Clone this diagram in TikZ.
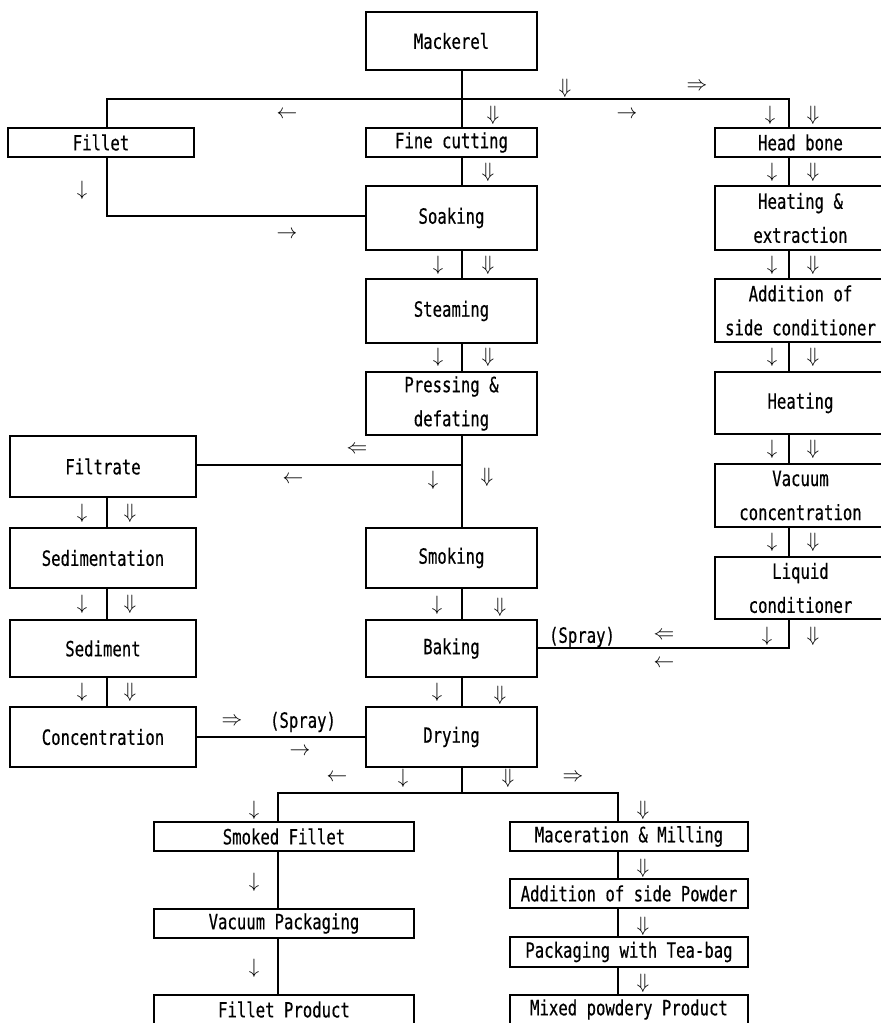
\documentclass[tikz,border=0pt]{standalone}
\usepackage{fontspec}
\newfontfamily\boxfont[FakeStretch=0.745,FakeBold=0.4]{DejaVu Sans Mono}
\begin{document}
\begin{tikzpicture}[x=1pt,y=-1pt,
  box/.style={draw, line width=1.2pt, inner sep=0pt, align=center,
    font=\boxfont\fontsize{21}{34}\selectfont},
  lab/.style={inner sep=0pt, font=\fontsize{20}{24}\selectfont},
  ln/.style={line width=1.2pt}]
\useasboundingbox (0,0) rectangle (881,1023);
\clip (0,0) rectangle (881,1023);
% boxes
\node[box, minimum width=171, minimum height=58] (mack) at (451.5,41) {Mackerel};
\node[box, minimum width=186, minimum height=29] (fillet) at (101,142.5) {Fillet};
\node[box, minimum width=171, minimum height=29] (fine) at (451.5,142.5) {Fine cutting};
\node[box, minimum width=171, minimum height=64] (soak) at (451.5,218) {Soaking};
\node[box, minimum width=171, minimum height=29] (head) at (800.5,142.5) {Head bone};
\node[box, minimum width=171, minimum height=64] (heatext) at (800.5,218) {Heating \&\\extraction};
\node[box, minimum width=171, minimum height=64] (steam) at (451.5,311) {Steaming};
\node[box, minimum width=171, minimum height=63] (press) at (451.5,403.5) {Pressing \&\\defating};
\node[box, minimum width=171, minimum height=63] (addcond) at (800.5,310.5) {Addition of\\side conditioner};
\node[box, minimum width=171, minimum height=62] (heat) at (800.5,403) {Heating};
\node[box, minimum width=186, minimum height=61] (filtrate) at (103,466.5) {Filtrate};
\node[box, minimum width=171, minimum height=63] (vac) at (800.5,495.5) {Vacuum\\concentration};
\node[box, minimum width=171, minimum height=62] (liquid) at (800.5,588) {Liquid\\conditioner};
\node[box, minimum width=186, minimum height=60] (sedim) at (103,558) {Sedimentation};
\node[box, minimum width=171, minimum height=60] (smoking) at (451.5,558) {Smoking};
\node[box, minimum width=186, minimum height=57] (sediment) at (103,648.5) {Sediment};
\node[box, minimum width=171, minimum height=57] (baking) at (451.5,648.5) {Baking};
\node[box, minimum width=186, minimum height=60] (conc) at (103,737) {Concentration};
\node[box, minimum width=171, minimum height=60] (drying) at (451.5,737) {Drying};
\node[box, minimum width=260, minimum height=29] (smf) at (284,836.5) {Smoked Fillet};
\node[box, minimum width=260, minimum height=29] (vpk) at (284,923.5) {Vacuum Packaging};
\node[box, minimum width=260, minimum height=29] (fpr) at (284,1009.5) {Fillet Product};
\node[box, minimum width=238, minimum height=29] (mac) at (629,836.5) {Maceration \& Milling};
\node[box, minimum width=238, minimum height=29] (apw) at (629,893.5) {Addition of side Powder};
\node[box, minimum width=238, minimum height=30] (ptb) at (629,952) {Packaging with Tea-bag};
\node[box, minimum width=238, minimum height=29] (mix) at (629,1009.5) {Mixed powdery Product};
% reference coordinates
\coordinate (cx) at (462,0);
\coordinate (lx) at (107,0);
\coordinate (rx) at (789,0);
\coordinate (bl) at (278,0);
\coordinate (br) at (618,0);
\coordinate (ty) at (0,99);
\coordinate (fy) at (0,216);
\coordinate (fl) at (0,465);
\coordinate (ly) at (0,648);
\coordinate (by) at (0,793);
% connectors
\draw[ln] (mack.south -| cx) -- (fine.north -| cx);
\draw[ln] (fillet.north -| lx) -- (lx |- ty) -- (rx |- ty) -- (head.north -| rx);
\draw[ln] (fillet.south -| lx) -- (lx |- fy) -- (soak.west |- fy);
\draw[ln] (fine.south -| cx) -- (soak.north -| cx);
\draw[ln] (soak.south -| cx) -- (steam.north -| cx);
\draw[ln] (steam.south -| cx) -- (press.north -| cx);
\draw[ln] (press.south -| cx) -- (smoking.north -| cx);
\draw[ln] (smoking.south -| cx) -- (baking.north -| cx);
\draw[ln] (baking.south -| cx) -- (drying.north -| cx);
\draw[ln] (filtrate.east |- fl) -- (cx |- fl);
\draw[ln] (head.south -| rx) -- (heatext.north -| rx);
\draw[ln] (heatext.south -| rx) -- (addcond.north -| rx);
\draw[ln] (addcond.south -| rx) -- (heat.north -| rx);
\draw[ln] (heat.south -| rx) -- (vac.north -| rx);
\draw[ln] (vac.south -| rx) -- (liquid.north -| rx);
\draw[ln] (liquid.south -| rx) -- (rx |- ly) -- (baking.east |- ly);
\draw[ln] (filtrate.south -| lx) -- (sedim.north -| lx);
\draw[ln] (sedim.south -| lx) -- (sediment.north -| lx);
\draw[ln] (sediment.south -| lx) -- (conc.north -| lx);
\draw[ln] (conc.east) -- (drying.west);
\draw[ln] (drying.south -| cx) -- (cx |- by);
\draw[ln] (smf.north -| bl) -- (bl |- by) -- (br |- by) -- (mac.north -| br);
\draw[ln] (smf.south -| bl) -- (vpk.north -| bl);
\draw[ln] (vpk.south -| bl) -- (fpr.north -| bl);
\draw[ln] (mac.south -| br) -- (apw.north -| br);
\draw[ln] (apw.south -| br) -- (ptb.north -| br);
\draw[ln] (ptb.south -| br) -- (mix.north -| br);
% arrow labels
\node[lab] (a1) at (565,88) {$\Downarrow$};
\node[lab] (a2) at (697,87) {$\Rightarrow$};
\node[lab] (a3) at (287,115) {$\leftarrow$};
\node[lab] (a4) at (627,115) {$\rightarrow$};
\node[lab] (a5) at (493,115) {$\Downarrow$};
\node[lab] (a6) at (770,115) {$\downarrow$};
\node[lab] (a7) at (813,115) {$\Downarrow$};
\node[lab] (a8) at (488,172) {$\Downarrow$};
\node[lab] (a9) at (82,190) {$\downarrow$};
\node[lab] (a10) at (287,235) {$\rightarrow$};
\node[lab] (a11) at (438,265) {$\downarrow$};
\node[lab] (a12) at (488,265) {$\Downarrow$};
\node[lab] (a13) at (438,357) {$\downarrow$};
\node[lab] (a14) at (488,357) {$\Downarrow$};
\node[lab] (b1) at (772,172) {$\downarrow$};
\node[lab] (b2) at (813,172) {$\Downarrow$};
\node[lab] (b3) at (772,265) {$\downarrow$};
\node[lab] (b4) at (813,265) {$\Downarrow$};
\node[lab] (b5) at (772,357) {$\downarrow$};
\node[lab] (b6) at (813,357) {$\Downarrow$};
\node[lab] (b7) at (772,449) {$\downarrow$};
\node[lab] (b8) at (813,449) {$\Downarrow$};
\node[lab] (b9) at (772,542) {$\downarrow$};
\node[lab] (b10) at (813,542) {$\Downarrow$};
\node[lab] (b11) at (767,636) {$\downarrow$};
\node[lab] (b12) at (813,636) {$\Downarrow$};
\node[lab] (c1) at (357,450) {$\Leftarrow$};
\node[lab] (c2) at (293,480) {$\leftarrow$};
\node[lab] (c3) at (433,480) {$\downarrow$};
\node[lab] (c4) at (487,477) {$\Downarrow$};
\node[lab] (d1) at (82,513) {$\downarrow$};
\node[lab] (d2) at (130,513) {$\Downarrow$};
\node[lab] (d3) at (82,604) {$\downarrow$};
\node[lab] (d4) at (130,604) {$\Downarrow$};
\node[lab] (d5) at (82,692) {$\downarrow$};
\node[lab] (d6) at (130,692) {$\Downarrow$};
\node[lab] (e1) at (437,605) {$\downarrow$};
\node[lab] (e2) at (500,607) {$\Downarrow$};
\node[lab] (e3) at (437,692) {$\downarrow$};
\node[lab] (e4) at (500,695) {$\Downarrow$};
\node[lab, font=\boxfont\fontsize{21}{24}\selectfont] (s1) at (582,637) {(Spray)};
\node[lab] (e5) at (664,636) {$\Leftarrow$};
\node[lab] (e6) at (664,664) {$\leftarrow$};
\node[lab] (f1) at (232,722) {$\Rightarrow$};
\node[lab, font=\boxfont\fontsize{21}{24}\selectfont] (s2) at (303,722) {(Spray)};
\node[lab] (f2) at (300,752) {$\rightarrow$};
\node[lab] (g1) at (337,778) {$\leftarrow$};
\node[lab] (g2) at (403,778) {$\downarrow$};
\node[lab] (g3) at (508,778) {$\Downarrow$};
\node[lab] (g4) at (573,778) {$\Rightarrow$};
\node[lab] (h1) at (254,810) {$\downarrow$};
\node[lab] (h2) at (254,882) {$\downarrow$};
\node[lab] (h3) at (254,968) {$\downarrow$};
\node[lab] (k1) at (643,810) {$\Downarrow$};
\node[lab] (k2) at (643,868) {$\Downarrow$};
\node[lab] (k3) at (643,926) {$\Downarrow$};
\node[lab] (k4) at (643,983) {$\Downarrow$};
\end{tikzpicture}
\end{document}
